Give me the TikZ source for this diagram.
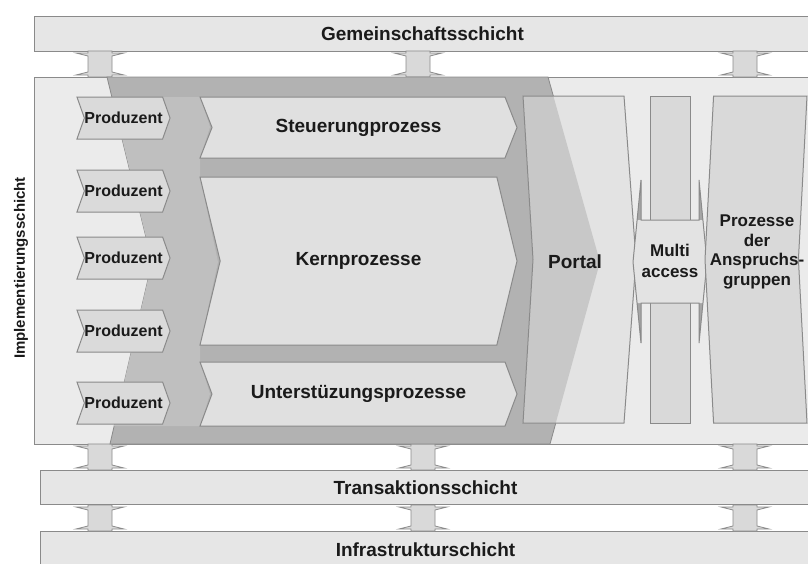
\documentclass[tikz,border=0pt]{standalone}
\usepackage{fontspec}
\setmainfont{Liberation Sans}
\usetikzlibrary{shapes.symbols, positioning}

\definecolor{edge}{HTML}{8A8A8A}
\definecolor{layerfill}{HTML}{E6E6E6}
\definecolor{mainfill}{HTML}{EBEBEB}
\definecolor{band}{HTML}{B2B2B2}
\definecolor{midband}{HTML}{BFBFBF}
\definecolor{procfill}{HTML}{E0E0E0}
\definecolor{prodfill}{HTML}{DADADA}
\definecolor{portlight}{HTML}{E3E3E3}
\definecolor{portmid}{HTML}{C8C8C8}
\definecolor{colfill}{HTML}{D9D9D9}
\definecolor{headfill}{HTML}{A6A6A6}
\definecolor{txt}{HTML}{1A1A1A}

\def\portalpath{(523,96) -- (624,96) -- (636,259.5) -- (624,423) -- (523,423) -- (533,259.5) -- cycle}

\begin{document}
\begin{tikzpicture}[
  x=1pt, y=-1pt,
  font=\bfseries\fontsize{19}{21}\selectfont, text=txt,
  layer/.style = {draw=edge, line width=1pt, fill=layerfill, anchor=north west, inner sep=0pt},
  chev/.style  = {signal, signal from=west, signal to=east, draw=edge, line width=1pt,
                  inner sep=0pt},
  prod/.style  = {chev, fill=prodfill, minimum width=93pt, minimum height=42pt,
                  signal pointer angle=141, font=\bfseries\fontsize{16}{18}\selectfont},
  proc/.style  = {chev, fill=procfill, minimum width=317pt},
  lbl/.style   = {inner sep=0pt, align=center},
  link/.pic    = {\filldraw[draw=edge, fill=colfill, line width=0.8pt]
                  (-12,-13) -- (12,-13) -- (12,-11) -- (24,-11) -- (12,-8) -- (12,8)
                  -- (24,11) -- (12,11) -- (12,13) -- (-12,13) -- (-12,11) -- (-24,11)
                  -- (-12,8) -- (-12,-8) -- (-24,-11) -- (-12,-11) -- cycle;},
]
\useasboundingbox (0,0) rectangle (808,563);
\clip (0,0) rectangle (808,563);

% layers
\node[layer, minimum width=776pt, minimum height=35pt] (gem) at (34,16) {Gemeinschaftsschicht};
\node[layer, fill=mainfill, minimum width=776pt, minimum height=367pt] (impl) at (34,77) {};
\node[layer, minimum width=770pt, minimum height=34pt] (trans) at (40,470) {Transaktionsschicht};
\node[layer, minimum width=770pt, minimum height=36pt] (infra) at (40,531) {Infrastrukturschicht};
\node[lbl, rotate=90, font=\bfseries\fontsize{15}{17}\selectfont] (impllbl) at (21,268)
  {Implementierungsschicht};

% links between the layers
\foreach \x in {100,418,745} \pic at (\x,64) {link};
\foreach \x in {100,423,745} {
  \pic at (\x,457) {link};
  \pic at (\x,518) {link};
}

% value chain band
\filldraw[draw=edge, line width=0.8pt, fill=band]
  (107,77) -- (548,77) -- (600,262) -- (550,444) -- (110,444) -- (152,262) -- cycle;
\fill[midband] (112,97) -- (200,97) -- (210,127) -- (200,158) -- (200,177) -- (218,262)
  -- (200,345) -- (200,362) -- (210,394) -- (200,426) -- (114,426) -- (152,262) -- cycle;

% producers
\foreach \y [count=\i] in {118,191,258,331,403}
  \node[prod] (prod\i) at (123.5,\y) {Produzent};

% processes
\node[proc, minimum height=61pt, signal pointer angle=137] (steuer) at (358.5,127.5)
  {Steuerungprozess};
\node[proc, minimum height=168pt, signal pointer angle=153] (kern) at (358.5,261)
  {Kernprozesse};
\node[proc, minimum height=64pt, signal pointer angle=139] (unter) at (358.5,394)
  {Unterstüzungsprozesse};

% portal
\fill[portlight] \portalpath;
\begin{scope}
  \clip \portalpath;
  \fill[portmid] (548,77) -- (600,262) -- (550,444) -- (450,444) -- (450,77) -- cycle;
\end{scope}
\draw[edge, line width=1pt] \portalpath;
\node[lbl] (portal) at (575,262) {Portal};

% multi access
\node[draw=edge, line width=1pt, fill=colfill, minimum width=40pt, minimum height=327pt,
  inner sep=0pt] (multicol) at (670,259.5) {};
\fill[headfill] (633,262) -- (641,180) -- (641,343) -- cycle
  (707,262) -- (699,180) -- (699,343) -- cycle;
\fill[portlight] (636.9,220) -- (702.9,220) -- (707,262) -- (702.9,303) -- (636.9,303)
  -- (633,262) -- cycle;
\draw[edge, line width=1pt] (633,262) -- (641,180) -- (641,220) -- (699,220) -- (699,180)
  -- (707,262) -- (699,343) -- (699,303) -- (641,303) -- (641,343) -- cycle;
\node[lbl, font=\bfseries\fontsize{17}{21}\selectfont] (multi) at (670,261) {Multi\\access};

% stakeholder processes
\node[signal, signal to=west, signal from=east, draw=edge, line width=1pt, fill=colfill,
  inner sep=0pt, minimum width=102pt, minimum height=327pt, signal pointer angle=174]
  (gruppenbox) at (756,259.5) {};
\node[lbl, font=\bfseries\fontsize{17}{19.5}\selectfont] (gruppen) at (757,252)
  {Prozesse\\der\\Anspruchs-\\gruppen};

\end{tikzpicture}
\end{document}
